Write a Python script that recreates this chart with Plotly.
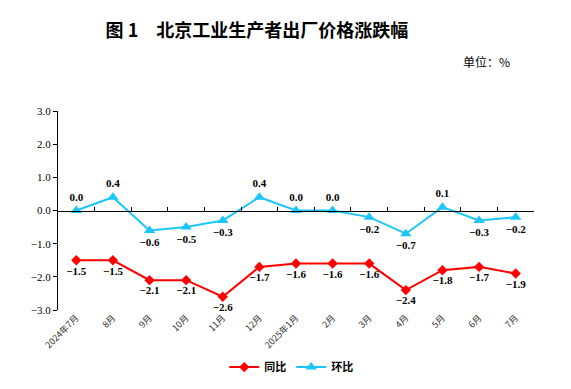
import plotly.graph_objects as go

categories = ["2024年7月", "8月", "9月", "10月", "11月", "12月", "2025年1月",
              "2月", "3月", "4月", "5月", "6月", "7月"]
yoy = [-1.5, -1.5, -2.1, -2.1, -2.6, -1.7, -1.6, -1.6, -1.6, -2.4, -1.8, -1.7, -1.9]
mom = [0.0, 0.4, -0.6, -0.5, -0.3, 0.4, 0.0, 0.0, -0.2, -0.7, 0.1, -0.3, -0.2]
y_ticks = [3.0, 2.0, 1.0, 0.0, -1.0, -2.0, -3.0]

RED = "#FF0000"
CYAN = "#1CC6FA"
label_font = dict(family="Liberation Serif", size=11, color="#000000")

fig = go.Figure()
fig.add_trace(go.Scatter(
    x=categories, y=yoy, name="<b>同比</b>", mode="lines+markers+text",
    line=dict(color=RED, width=2),
    marker=dict(symbol="diamond", size=8, color=RED),
    text=[f"<b>{v:.1f}</b>".replace("-", "−") for v in yoy],
    textposition="bottom center", textfont=label_font, cliponaxis=False,
))
fig.add_trace(go.Scatter(
    x=categories, y=mom, name="<b>环比</b>", mode="lines+markers+text",
    line=dict(color=CYAN, width=2),
    marker=dict(symbol="triangle-up", size=10, color=CYAN),
    text=[f"<b>{v:.1f}</b>".replace("-", "−") for v in mom],
    textposition=["top center" if v >= 0 else "bottom center" for v in mom],
    textfont=label_font, cliponaxis=False,
))
# invisible trace on the zero-line axis
fig.add_trace(go.Scatter(x=categories, y=[0] * len(categories), xaxis="x2",
                         mode="lines", line=dict(width=0), showlegend=False,
                         hoverinfo="skip"))

x_range = [-0.5, len(categories) - 0.5]

# page body has an 8px margin, so figure coords = screen coords - 8
fig.update_layout(
    width=571, height=389,
    margin=dict(l=50, r=45, t=103, b=87),
    paper_bgcolor="white", plot_bgcolor="white",
    font=dict(family="Noto Sans CJK SC", color="#000000"),
    title=dict(text="<b>图 1　北京工业生产者出厂价格涨跌幅</b>",
               xref="container", yref="container", x=0.436, y=0.941,
               xanchor="center", yanchor="middle",
               font=dict(family="Noto Sans CJK SC", size=18, color="#000000")),
    xaxis=dict(type="category", range=x_range, showline=False, ticks="", showgrid=False,
               tickangle=-45, automargin=False,
               tickfont=dict(family="Noto Sans CJK SC", size=9, color="#333333"),
               zeroline=False),
    xaxis2=dict(type="category", overlaying="x", anchor="free", position=0.5,
                matches="x", showline=True, linecolor="#000000", linewidth=1,
                ticks="inside", ticklen=4, tickcolor="#000000", automargin=False,
                tickson="boundaries", showticklabels=False, showgrid=False,
                zeroline=False),
    yaxis=dict(range=[-3, 3], tickvals=y_ticks, tickformat=".1f", automargin=False,
               showline=True, linecolor="#000000", linewidth=1,
               ticks="outside", ticklen=4, tickcolor="#000000",
               showgrid=False, zeroline=False,
               tickfont=dict(family="Liberation Serif", size=11, color="#000000")),
    showlegend=True,
    legend=dict(orientation="h", x=0.49, y=-0.287, xanchor="center", yanchor="middle",
                font=dict(family="Noto Sans CJK SC", size=11, color="#000000"),
                itemwidth=30, bgcolor="rgba(0,0,0,0)"),
    annotations=[dict(text="单位：%", xref="paper", yref="paper",
                      x=(512 - 58) / 476, y=1 + (111 - 62) / 199,
                      xanchor="right", yanchor="middle", showarrow=False,
                      font=dict(family="Noto Sans CJK SC", size=12, color="#000000"))],
)
fig.update_yaxes(tickprefix="<b>", ticksuffix="</b>")

fig.write_html("out.html")
